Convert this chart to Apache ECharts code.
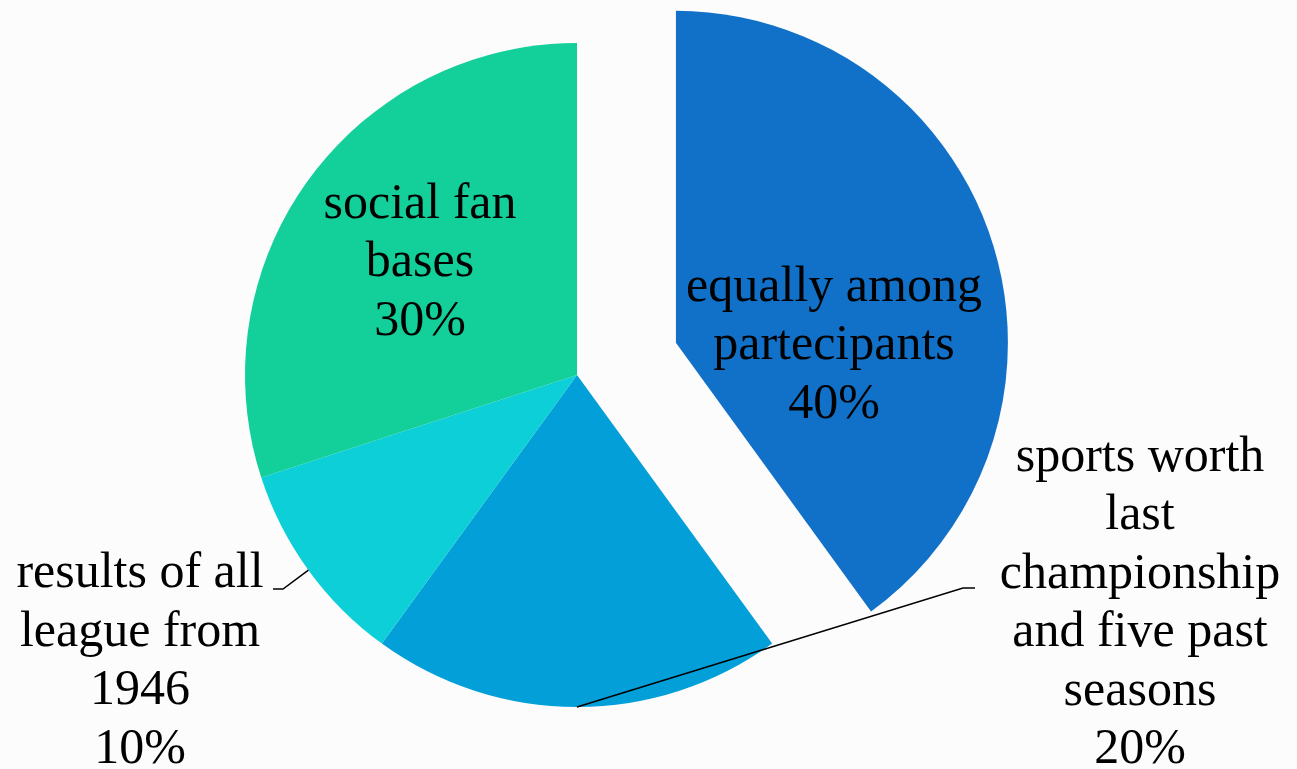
<!DOCTYPE html>
<html>
<head>
<meta charset="utf-8">
<script src="https://cdn.jsdelivr.net/npm/echarts@6/dist/echarts.min.js"></script>
<style>
html,body{margin:0;padding:0;background:#fcfcfc;}
#chart{width:1297px;height:769px;}
</style>
</head>
<body>
<div id="chart"></div>
<script>
const categories = [
  'equally among\npartecipants',
  'sports worth\nlast\nchampionship\nand five past\nseasons',
  'results of all\nleague from\n1946',
  'social fan\nbases'
];
const values = [40, 20, 10, 30];
const sliceColors = ['#1170C8', '#039FD8', '#0DCFD8', '#13CF9A'];

// label anchor placement (centre of each label block)
const labelCenters = [[834, 346], [1140, 604], [140, 662], [420, 263]];
const insideLabel = [true, false, false, true];

const chart = echarts.init(document.getElementById('chart'), null, {renderer: 'canvas'});

const common = {
  type: 'pie',
  center: [577, 375],
  radius: [0, 332],
  startAngle: 90,
  clockwise: true,
  avoidLabelOverlap: false,
  emphasis: {disabled: true},
  silent: true
};

// visible sectors
const sectorData = categories.map((name, i) => ({
  name: name,
  value: values[i],
  selected: i === 0,
  itemStyle: {color: sliceColors[i], borderWidth: 0}
}));

// transparent overlay carrying labels + leader lines (drawn above sectors)
const labelData = categories.map((name, i) => ({
  name: name,
  value: values[i],
  itemStyle: {color: 'rgba(0,0,0,0)', borderWidth: 0},
  label: {position: insideLabel[i] ? 'inside' : 'outside'},
  labelLine: {show: !insideLabel[i]}
}));

chart.setOption({
  backgroundColor: '#fcfcfc',
  animation: false,
  series: [
    Object.assign({}, common, {
      z: 2,
      selectedMode: 'single',
      selectedOffset: 104,
      label: {show: false},
      labelLine: {show: false},
      data: sectorData
    }),
    Object.assign({}, common, {
      z: 10,
      selectedMode: false,
      label: {
        show: true,
        formatter: '{b}\n{c}%',
        fontFamily: '"Liberation Serif", "DejaVu Serif", serif',
        fontSize: 50,
        lineHeight: 58.5,
        color: '#000',
        align: 'center'
      },
      labelLine: {
        show: true,
        maxSurfaceAngle: 180,
        minTurnAngle: 0,
        lineStyle: {color: '#000', width: 1.5}
      },
      labelLayout: function (params) {
        const c = labelCenters[params.dataIndex];
        const out = {x: c[0], y: c[1], align: 'center', verticalAlign: 'middle', hideOverlap: false};
        const p = params.labelLinePoints;
        if (!insideLabel[params.dataIndex] && p) {
          if (params.dataIndex === 1) {
            out.labelLinePoints = [p[0], [c[0] - 177, c[1] - 16], [c[0] - 165, c[1] - 16]];
          } else {
            out.labelLinePoints = [p[0], [c[0] + 143, c[1] - 73], [c[0] + 133, c[1] - 73]];
          }
        }
        return out;
      },
      data: labelData
    })
  ]
});
</script>
</body>
</html>
